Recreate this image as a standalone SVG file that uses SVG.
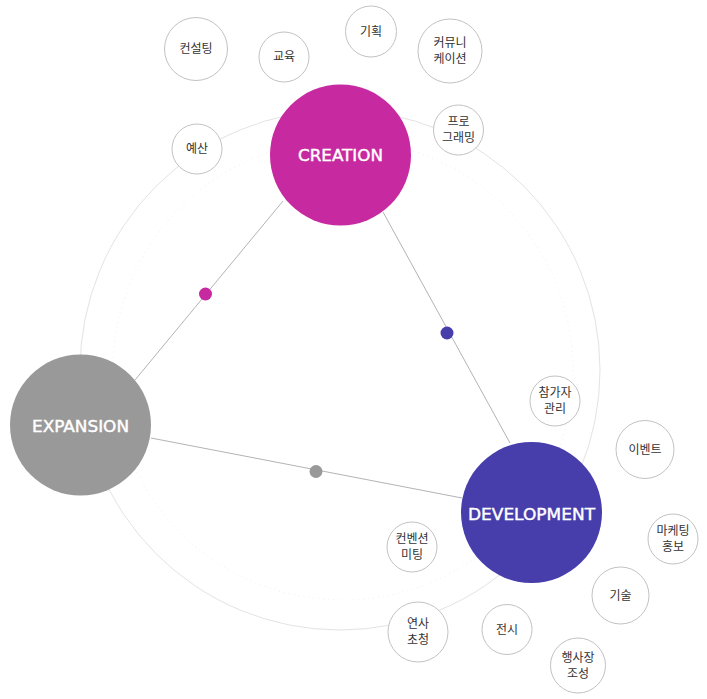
<svg xmlns="http://www.w3.org/2000/svg" width="707" height="699" viewBox="0 0 707 699">
<style>
.ring{fill:none;stroke:#e3e3e3;stroke-width:1}
.dots{fill:none;stroke:#f0f0f0;stroke-width:1;stroke-dasharray:1 4}
.conn{stroke:#b3b3b3;stroke-width:1;fill:none}
.sm{fill:#fff;stroke:#c2c2c2;stroke-width:1}
.kt{font-family:"Noto Sans CJK KR","Noto Sans",sans-serif;font-size:12px;fill:#333;text-anchor:middle}
.big{font-family:"DejaVu Sans","Open Sans",sans-serif;font-size:15px;font-weight:normal;fill:#fff;stroke:#fff;stroke-width:0.4;text-anchor:middle}
</style>
<rect width="707" height="699" fill="#fff"/>
<circle class="ring" cx="340" cy="370" r="260"/>
<circle class="dots" cx="343" cy="370" r="230"/>
<g id="connectors">
<line class="conn" x1="283" y1="201" x2="135" y2="380"/>
<line class="conn" x1="383" y1="212" x2="510" y2="443"/>
<line class="conn" x1="151" y1="438" x2="462" y2="498"/>
<circle cx="205.5" cy="294" r="6.5" fill="#c729a0"/>
<circle cx="447" cy="333" r="6.5" fill="#473dab"/>
<circle cx="316" cy="471.5" r="6.5" fill="#999"/>
</g>
<g id="creation"><circle cx="340.5" cy="155" r="70.5" fill="#c729a0"/><text class="big" x="340.5" y="161" textLength="85" lengthAdjust="spacingAndGlyphs">CREATION</text></g>
<g id="expansion"><circle cx="80.5" cy="425" r="70.5" fill="#999999"/><text class="big" x="80.5" y="432" textLength="97" lengthAdjust="spacingAndGlyphs">EXPANSION</text></g>
<g id="development"><circle cx="531.5" cy="512.5" r="70.5" fill="#473dab"/><text class="big" x="531.5" y="519.5" textLength="127" lengthAdjust="spacingAndGlyphs">DEVELOPMENT</text></g>
<g id="n-consulting"><circle class="sm" cx="196" cy="49" r="31.5"/><text class="kt" x="196" y="53">컨설팅</text></g>
<g id="n-edu"><circle class="sm" cx="284" cy="57" r="25"/><text class="kt" x="284" y="61">교육</text></g>
<g id="n-plan"><circle class="sm" cx="371" cy="31.5" r="25.5"/><text class="kt" x="371" y="35.5">기획</text></g>
<g id="n-comm"><circle class="sm" cx="450" cy="51" r="32"/><text class="kt" x="450" y="47">커뮤니</text><text class="kt" x="450" y="63">케이션</text></g>
<g id="n-prog"><circle class="sm" cx="458.5" cy="130" r="25"/><text class="kt" x="458.5" y="126">프로</text><text class="kt" x="458.5" y="142">그래밍</text></g>
<g id="n-budget"><circle class="sm" cx="197" cy="149" r="25"/><text class="kt" x="197" y="153">예산</text></g>
<g id="n-partic"><circle class="sm" cx="555" cy="401" r="25"/><text class="kt" x="555" y="397">참가자</text><text class="kt" x="555" y="413">관리</text></g>
<g id="n-event"><circle class="sm" cx="645" cy="449.5" r="29"/><text class="kt" x="645" y="453.5">이벤트</text></g>
<g id="n-mkt"><circle class="sm" cx="673" cy="539" r="25"/><text class="kt" x="673" y="535">마케팅</text><text class="kt" x="673" y="551">홍보</text></g>
<g id="n-tech"><circle class="sm" cx="620.5" cy="595.5" r="28.5"/><text class="kt" x="620.5" y="599.5">기술</text></g>
<g id="n-venue"><circle class="sm" cx="578" cy="665.5" r="27.5"/><text class="kt" x="578" y="661.5">행사장</text><text class="kt" x="578" y="677.5">조성</text></g>
<g id="n-exhib"><circle class="sm" cx="507" cy="629.5" r="25"/><text class="kt" x="507" y="633.5">전시</text></g>
<g id="n-speaker"><circle class="sm" cx="418" cy="632" r="30"/><text class="kt" x="418" y="628">연사</text><text class="kt" x="418" y="644">초청</text></g>
<g id="n-conv"><circle class="sm" cx="412" cy="547" r="25"/><text class="kt" x="412" y="543">컨벤션</text><text class="kt" x="412" y="559">미팅</text></g>
</svg>
